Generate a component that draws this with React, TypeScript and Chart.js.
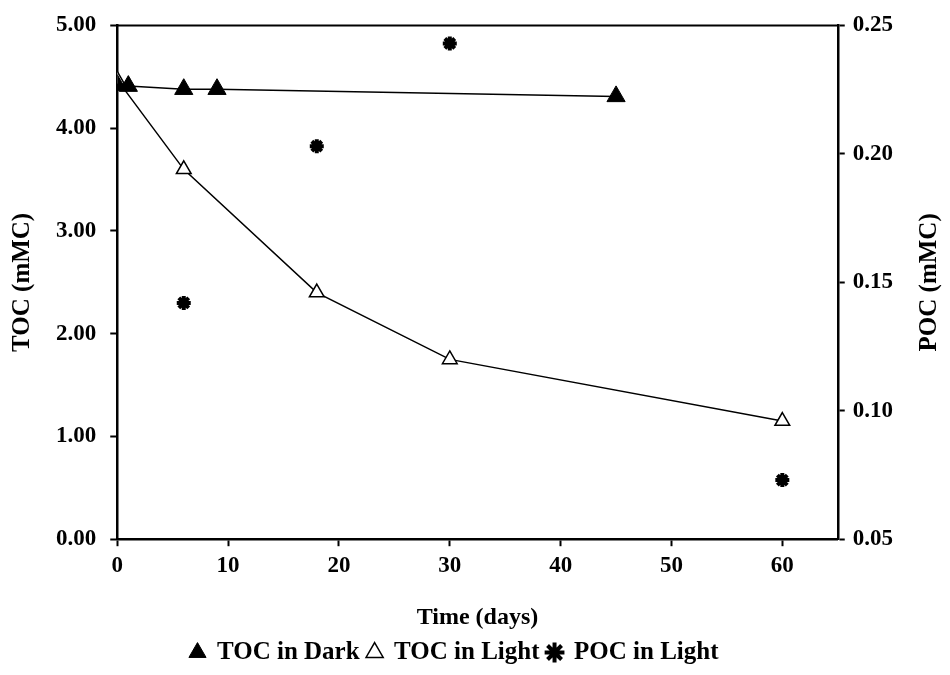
import React, { useEffect, useRef } from "react";
import { Chart, registerables } from "chart.js";

Chart.register(...registerables);

const darkDays = [0, 1, 6, 9, 45];
const darkToc = [4.42, 4.41, 4.38, 4.38, 4.31];
const lightDays = [0, 6, 18, 30, 60];
const lightToc = [4.47, 3.6, 2.4, 1.75, 1.15];
const pocDays = [6, 18, 30, 60];
const pocLight = [0.142, 0.203, 0.243, 0.073];

const FONT = "'Liberation Serif', 'Times New Roman', serif";

const frame = {
  id: "frame",
  afterDraw(chart: any) {
    const { ctx, chartArea: a } = chart;
    ctx.save();
    ctx.strokeStyle = "#000";
    ctx.lineWidth = 2;
    ctx.beginPath();
    ctx.moveTo(a.left, a.top);
    ctx.lineTo(a.right, a.top);
    ctx.stroke();
    // right axis title, reading bottom to top
    ctx.fillStyle = "#000";
    ctx.font = `bold 25px ${FONT}`;
    ctx.translate(930, (a.top + a.bottom) / 2);
    ctx.rotate(-Math.PI / 2);
    ctx.textAlign = "center";
    ctx.textBaseline = "middle";
    ctx.fillText("POC (mMC)", 0, 0);
    ctx.restore();
  },
};

const tickFont = { family: FONT, size: 23, weight: "bold" as const, lineHeight: 1 };
const gridOpts = {
  display: true,
  drawOnChartArea: false,
  drawTicks: true,
  tickLength: 7,
  tickColor: "#000",
  tickWidth: 2,
};

export default function App() {
  const ref = useRef<HTMLCanvasElement>(null);
  useEffect(() => {
    document.body.style.margin = "0";
    const chart = new Chart(ref.current!, {
      type: "scatter",
      data: {
        datasets: [
          {
            label: "TOC in Dark",
            data: darkDays.map((d, i) => ({ x: d, y: darkToc[i] })),
            showLine: true,
            borderColor: "#000",
            borderWidth: 1.5,
            pointStyle: "triangle",
            pointRadius: 10.5,
            pointBackgroundColor: "#000",
            pointBorderColor: "#000",
            pointBorderWidth: 1,
            backgroundColor: "#000",
            yAxisID: "y",
          },
          {
            label: "TOC in Light",
            data: lightDays.map((d, i) => ({ x: d, y: lightToc[i] })),
            showLine: true,
            borderColor: "#000",
            borderWidth: 1.5,
            pointStyle: "triangle",
            pointRadius: 8.5,
            pointBackgroundColor: "#fff",
            pointBorderColor: "#000",
            pointBorderWidth: 1.5,
            backgroundColor: "#fff",
            yAxisID: "y",
          },
          {
            label: "POC in Light",
            data: pocDays.map((d, i) => ({ x: d, y: pocLight[i] })),
            showLine: false,
            borderColor: "#000",
            backgroundColor: "#000",
            pointStyle: "star",
            pointRadius: 7,
            pointBorderWidth: 4,
            pointBorderColor: "#000",
            yAxisID: "y1",
          },
        ],
      },
      options: {
        animation: false,
        responsive: false,
        layout: { padding: { left: 8, right: 49, top: 4, bottom: 0 } },
        plugins: {
          tooltip: { enabled: false },
          legend: {
            position: "bottom",
            labels: {
              color: "#000",
              font: { family: FONT, size: 25, weight: "bold" },
              usePointStyle: true,
              boxWidth: 14,
              boxHeight: 14,
              padding: 8,
            },
          },
        },
        scales: {
          x: {
            type: "linear",
            min: 0,
            max: 65,
            afterBuildTicks: (s: any) => {
              s.ticks = s.ticks.filter((t: any) => t.value % 10 === 0);
            },
            grid: gridOpts,
            border: { display: true, color: "#000", width: 2.5 },
            ticks: {
              stepSize: 10,
              color: "#000",
              font: tickFont,
              padding: 8,
              maxRotation: 0,
            },
            title: {
              display: true,
              text: "Time (days)",
              color: "#000",
              font: { family: FONT, size: 24, weight: "bold" },
              padding: { top: 18, bottom: 0 },
            },
          },
          y: {
            position: "left",
            min: 0,
            max: 5,
            grid: gridOpts,
            border: { display: true, color: "#000", width: 2.5 },
            ticks: {
              stepSize: 1,
              color: "#000",
              font: tickFont,
              callback: (v: any) => Number(v).toFixed(2),
              padding: 14,
            },
            title: {
              display: true,
              text: "TOC (mMC)",
              color: "#000",
              font: { family: FONT, size: 25, weight: "bold" },
              padding: { top: 0, bottom: 4 },
            },
          },
          y1: {
            position: "right",
            min: 0.05,
            max: 0.25,
            grid: gridOpts,
            border: { display: true, color: "#000", width: 2.5 },
            ticks: {
              stepSize: 0.05,
              color: "#000",
              font: tickFont,
              callback: (v: any) => Number(v).toFixed(2),
              padding: 8,
            },
          },
        },
      },
      plugins: [frame],
    });
    return () => chart.destroy();
  }, []);
  return <canvas ref={ref} width={950} height={675} style={{ display: "block" }} />;
}
